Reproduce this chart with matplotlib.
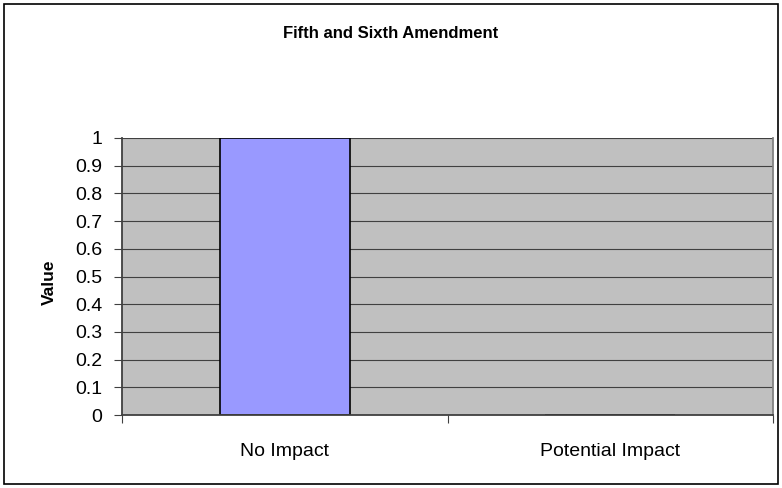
import matplotlib
matplotlib.use('Agg')
import matplotlib.pyplot as plt
from matplotlib.patches import Rectangle

categories = ['No Impact', 'Potential Impact']
values = [1, 0]
y_ticks = [0, 0.1, 0.2, 0.3, 0.4, 0.5, 0.6, 0.7, 0.8, 0.9, 1]
y_labels = ['0', '0.1', '0.2', '0.3', '0.4', '0.5', '0.6', '0.7', '0.8', '0.9', '1']

plt.rcParams['font.family'] = ['Liberation Sans', 'DejaVu Sans']

fig = plt.figure(figsize=(7.82, 4.88), dpi=100)
fig.patches.append(Rectangle((4 / 782, 4 / 488), 774 / 782, 480 / 488, transform=fig.transFigure,
                             fill=False, edgecolor='black', linewidth=1.2))

ax = fig.add_axes([122 / 782, 1 - 415 / 488, 651 / 782, 277 / 488])
ax.set_facecolor('#C0C0C0')

x = list(range(len(categories)))
ax.bar(x, values, width=0.4, color='#9999FF', edgecolor='black', linewidth=1.2, zorder=2)

ax.set_xlim(-0.5, len(categories) - 0.5)
ax.set_ylim(0, 1)
ax.set_yticks(y_ticks)
ax.set_yticklabels(y_labels, fontsize=14)
ax.yaxis.grid(True, color='#404040', linewidth=0.8, zorder=1)
ax.set_axisbelow(True)

ax.set_xticks([i - 0.5 for i in range(len(categories) + 1)])
ax.set_xticklabels([])
ax.set_xticks(x, minor=True)
ax.set_xticklabels(categories, minor=True, fontsize=14)
ax.tick_params(axis='x', which='minor', length=0, pad=20)
ax.tick_params(axis='x', which='major', length=6, color='#404040', direction='out')
ax.tick_params(axis='y', length=6, color='#404040', direction='out', pad=8)

for s in ax.spines.values():
    s.set_color('#404040')
    s.set_linewidth(1.3)
    s.set_zorder(3)
ax.spines['top'].set_visible(False)
ax.spines['right'].set_color('#808080')

ax.set_ylabel('Value', fontsize=12.5, fontweight='bold')
ax.yaxis.set_label_coords(-0.1, 0.48)
fig.text(0.5, 1 - 34 / 488, 'Fifth and Sixth Amendment', ha='center', va='center',
         fontsize=12, fontweight='bold')

fig.savefig('out.png', dpi=100)
